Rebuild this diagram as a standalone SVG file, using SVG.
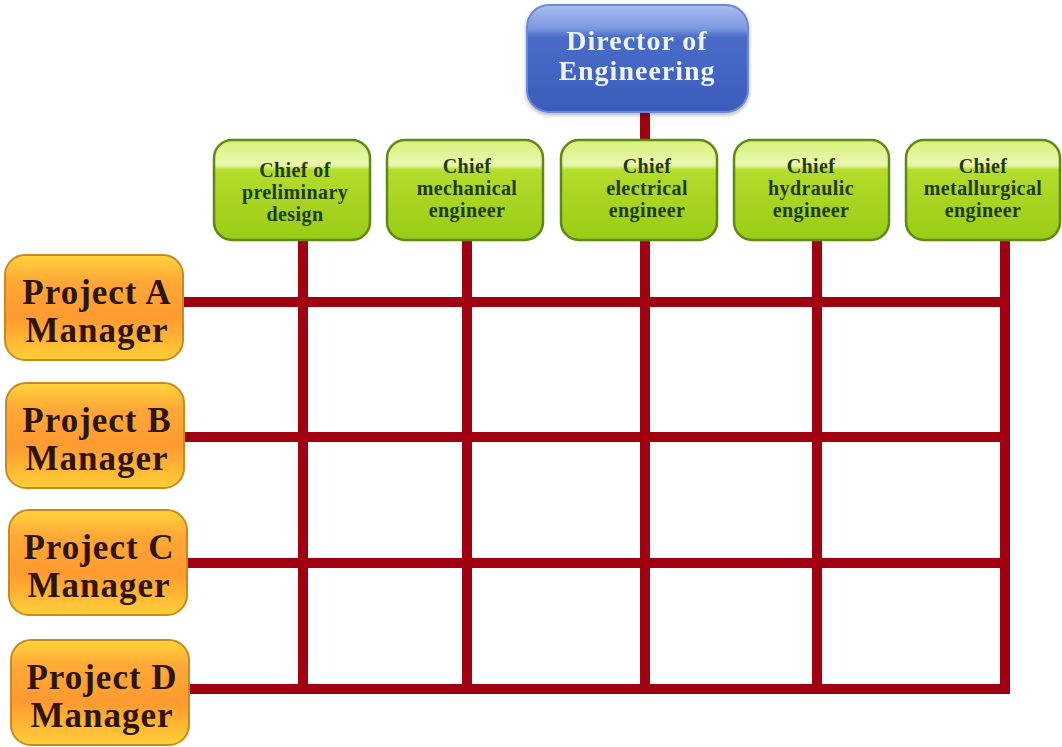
<svg xmlns="http://www.w3.org/2000/svg" width="1062" height="747" viewBox="0 0 1062 747">
  <defs>
    <linearGradient id="gBlue" x1="0" y1="0" x2="0" y2="1">
      <stop offset="0" stop-color="#a9bdf0"/>
      <stop offset="0.22" stop-color="#7d98e2"/>
      <stop offset="0.3" stop-color="#4a6cc8"/>
      <stop offset="1" stop-color="#3a5cbc"/>
    </linearGradient>
    <linearGradient id="gGreen" x1="0" y1="0" x2="0" y2="1">
      <stop offset="0" stop-color="#d8f07a"/>
      <stop offset="0.25" stop-color="#eaf8b0"/>
      <stop offset="0.3" stop-color="#b4dc2c"/>
      <stop offset="1" stop-color="#9acc14"/>
    </linearGradient>
    <linearGradient id="gOrange" x1="0" y1="0" x2="0" y2="1">
      <stop offset="0" stop-color="#ffd43a"/>
      <stop offset="0.25" stop-color="#ffa838"/>
      <stop offset="0.6" stop-color="#ff9a30"/>
      <stop offset="1" stop-color="#ffd038"/>
    </linearGradient>
    <filter id="soft" x="-10%" y="-10%" width="120%" height="130%">
      <feGaussianBlur in="SourceAlpha" stdDeviation="2"/>
      <feOffset dy="2"/>
      <feComponentTransfer><feFuncA type="linear" slope="0.3"/></feComponentTransfer>
      <feMerge><feMergeNode/><feMergeNode in="SourceGraphic"/></feMerge>
    </filter>
  </defs>
  <style>
    .wire { stroke: #a00010; stroke-width: 10; fill: none; stroke-linecap: square; }
    .dir { fill: url(#gBlue); stroke: #6f88d4; stroke-width: 2; }
    .chief { fill: url(#gGreen); stroke: #5e8a14; stroke-width: 2.5; }
    .pm { fill: url(#gOrange); stroke: #c88a20; stroke-width: 2; }
    .tdir { font-family: "Liberation Serif", "DejaVu Serif", serif; font-weight: bold; font-size: 28px; letter-spacing: 1px; fill: #eef3fb; text-anchor: middle; }
    .tchief { font-family: "Liberation Serif", "DejaVu Serif", serif; font-weight: bold; font-size: 20px; letter-spacing: 0.4px; fill: #1f3a0c; text-anchor: middle; }
    .tpm { font-family: "Liberation Serif", "DejaVu Serif", serif; font-weight: bold; font-size: 35px; letter-spacing: 1px; fill: #2e140a; text-anchor: middle; }
  </style>
  <rect width="1062" height="747" fill="#ffffff"/>

  <!-- connectors: matrix of reporting lines -->
  <g id="connectors">
    <line class="wire" x1="645" y1="113" x2="645" y2="140"/>
    <line class="wire" x1="303" y1="240" x2="303" y2="689"/>
    <line class="wire" x1="467" y1="240" x2="467" y2="689"/>
    <line class="wire" x1="645" y1="240" x2="645" y2="689"/>
    <line class="wire" x1="817" y1="240" x2="817" y2="689"/>
    <line class="wire" x1="1005" y1="240" x2="1005" y2="689"/>
    <line class="wire" x1="185" y1="302" x2="1005" y2="302"/>
    <line class="wire" x1="185" y1="437" x2="1005" y2="437"/>
    <line class="wire" x1="188" y1="563" x2="1005" y2="563"/>
    <line class="wire" x1="190" y1="689" x2="1005" y2="689"/>
  </g>

  <!-- director -->
  <g id="director" filter="url(#soft)">
    <rect class="dir" x="527" y="5" width="221" height="107" rx="22"/>
    <text class="tdir" x="637" y="50">Director of</text>
    <text class="tdir" x="637" y="80">Engineering</text>
  </g>

  <!-- chiefs -->
  <g id="chief-preliminary">
    <rect class="chief" x="214" y="140" width="156" height="100" rx="18"/>
    <text class="tchief" x="295" y="177">Chief of</text>
    <text class="tchief" x="295" y="199">preliminary</text>
    <text class="tchief" x="295" y="221">design</text>
  </g>
  <g id="chief-mechanical">
    <rect class="chief" x="387" y="140" width="156" height="100" rx="18"/>
    <text class="tchief" x="467" y="173">Chief</text>
    <text class="tchief" x="467" y="195">mechanical</text>
    <text class="tchief" x="467" y="217">engineer</text>
  </g>
  <g id="chief-electrical">
    <rect class="chief" x="561" y="140" width="156" height="100" rx="18"/>
    <text class="tchief" x="647" y="173">Chief</text>
    <text class="tchief" x="647" y="195">electrical</text>
    <text class="tchief" x="647" y="217">engineer</text>
  </g>
  <g id="chief-hydraulic">
    <rect class="chief" x="734" y="140" width="155" height="100" rx="18"/>
    <text class="tchief" x="811" y="173">Chief</text>
    <text class="tchief" x="811" y="195">hydraulic</text>
    <text class="tchief" x="811" y="217">engineer</text>
  </g>
  <g id="chief-metallurgical">
    <rect class="chief" x="906" y="140" width="154" height="100" rx="18"/>
    <text class="tchief" x="983" y="173">Chief</text>
    <text class="tchief" x="983" y="195">metallurgical</text>
    <text class="tchief" x="983" y="217">engineer</text>
  </g>

  <!-- project managers -->
  <g id="pm-a">
    <rect class="pm" x="5" y="255" width="178" height="105" rx="20"/>
    <text class="tpm" x="97" y="304">Project A</text>
    <text class="tpm" x="97" y="342">Manager</text>
  </g>
  <g id="pm-b">
    <rect class="pm" x="6" y="383" width="178" height="105" rx="20"/>
    <text class="tpm" x="97" y="432">Project B</text>
    <text class="tpm" x="97" y="470">Manager</text>
  </g>
  <g id="pm-c">
    <rect class="pm" x="9" y="510" width="178" height="105" rx="20"/>
    <text class="tpm" x="99" y="559">Project C</text>
    <text class="tpm" x="99" y="597">Manager</text>
  </g>
  <g id="pm-d">
    <rect class="pm" x="11" y="640" width="178" height="105" rx="20"/>
    <text class="tpm" x="102" y="689">Project D</text>
    <text class="tpm" x="102" y="727">Manager</text>
  </g>
</svg>
